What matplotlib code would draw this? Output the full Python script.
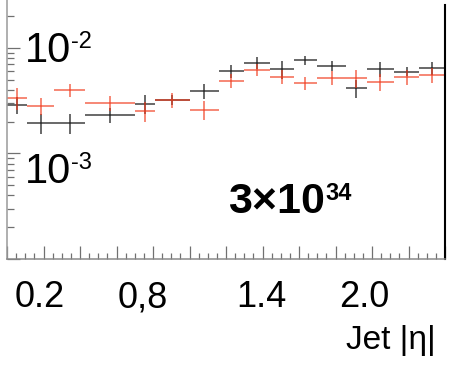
import matplotlib
matplotlib.use("Agg")
import matplotlib.pyplot as plt
import matplotlib.transforms as mtransforms
from matplotlib.ticker import MultipleLocator, LogLocator, NullFormatter
import numpy as np

plt.rcParams['font.family'] = ['Liberation Sans', 'DejaVu Sans']

# variable-width |eta| bins
bin_edges = [0.0, 0.11, 0.26, 0.43, 0.70, 0.81, 1.0, 1.16, 1.30, 1.44,
             1.57, 1.70, 1.86, 1.97, 2.12, 2.26, 2.4]

# black series: value and error per bin
black_vals = [2.90e-3, 1.96e-3, 1.96e-3, 2.33e-3, 2.96e-3, 3.23e-3, 3.93e-3, 6.07e-3,
              7.22e-3, 6.34e-3, 7.70e-3, 6.76e-3, 4.19e-3, 6.34e-3, 5.94e-3, 6.48e-3]
black_errs = [5.35e-4, 4.26e-4, 4.26e-4, 3.80e-4, 5.79e-4, 3.51e-4, 6.40e-4, 8.57e-4,
              9.41e-4, 1.24e-3, 7.53e-4, 7.34e-4, 8.19e-4, 1.03e-3, 5.80e-4, 9.15e-4]

# red series: value and error per bin
red_vals = [3.38e-3, 2.84e-3, 4.02e-3, 3.03e-3, 2.54e-3, 3.23e-3, 2.60e-3, 4.88e-3,
            6.20e-3, 5.33e-3, 4.67e-3, 5.21e-3, 5.21e-3, 4.78e-3, 5.33e-3, 5.56e-3]
red_errs = [8.08e-4, 5.24e-4, 5.68e-4, 4.94e-4, 5.52e-4, 5.26e-4, 5.08e-4, 7.42e-4,
            8.08e-4, 8.11e-4, 6.59e-4, 7.92e-4, 1.02e-3, 8.82e-4, 8.68e-4, 9.06e-4]

tick_vals = [0.2, 0.8, 1.4, 2.0]
tick_labels = ["0.2", "0,8", "1.4", "2.0"]
x_title = "Jet |\u03b7|"
lumi_main = "3\u00d710"
lumi_exp = "34"

W, H = 450, 366
fig = plt.figure(figsize=(W / 100, H / 100), dpi=100)
ax = fig.add_axes([7 / W, (H - 259) / H, 438 / W, 259 / H])

edges = np.array(bin_edges)
centers = 0.5 * (edges[:-1] + edges[1:])
halfw = 0.5 * (edges[1:] - edges[:-1])

ax.errorbar(centers, black_vals, xerr=halfw, yerr=black_errs, fmt='none',
            ecolor='#1a1a1a', elinewidth=1.15, capsize=0, alpha=0.8)
ax.errorbar(centers, red_vals, xerr=halfw, yerr=red_errs, fmt='none',
            ecolor='#f03c1e', elinewidth=1.15, capsize=0, alpha=0.75)

ax.set_yscale('log')
ax.set_xlim(0, 2.4)
ax.set_ylim(1e-4, 2.84e-2)

# ticks drawn inward, no numeric labels
ax.xaxis.set_major_locator(MultipleLocator(0.2))
ax.xaxis.set_minor_locator(MultipleLocator(0.05))
ax.yaxis.set_major_locator(LogLocator(base=10))
ax.yaxis.set_minor_locator(LogLocator(base=10, subs=np.arange(2, 10)))
ax.xaxis.set_major_formatter(NullFormatter())
ax.yaxis.set_major_formatter(NullFormatter())
ax.yaxis.set_minor_formatter(NullFormatter())
ax.tick_params(axis='both', which='major', direction='in', length=9.4, width=0.9,
               color='#707070', top=False, right=False)
ax.tick_params(axis='both', which='minor', direction='in', length=4.6, width=0.9,
               color='#707070', top=False, right=False)
ax.tick_params(axis='y', which='minor', length=5.0)

ax.spines['top'].set_visible(False)
ax.spines['left'].set_color('#9a9a9a')
ax.spines['left'].set_linewidth(1.1)
ax.spines['bottom'].set_color('#8a8a8a')
ax.spines['bottom'].set_linewidth(1.1)
ax.spines['right'].set_color('black')
ax.spines['right'].set_linewidth(1.5)
ax.spines['right'].set_bounds(1e-4, 2.55e-2)

# x tick labels, nudged left as typeset
label_nudge_px = [-4, -10, -1, -8]
for xv, txt, dx in zip(tick_vals, tick_labels, label_nudge_px):
    tr = ax.get_xaxis_transform() + mtransforms.ScaledTranslation(dx / 100, 0, fig.dpi_scale_trans)
    ax.text(xv, -48 / 259, txt, transform=tr, ha='center', va='baseline',
            fontsize=26, color='black')

# axis title
fig.text(436 / W, 1 - 349 / H, x_title, ha='right', va='baseline', fontsize=24)

# decade labels inside the frame
def decade(x_px, base_px, exp):
    fig.text(x_px / W, 1 - base_px / H, "10", ha='left', va='baseline', fontsize=30)
    fig.text((x_px + 46) / W, 1 - (base_px - 14) / H, exp, ha='left', va='baseline',
             fontsize=17)

decade(25, 62, "-2")
decade(25, 183, "-3")

# luminosity label
fig.text(228 / W, 1 - 213 / H, lumi_main, ha='left', va='baseline', fontsize=31,
         fontweight='bold')
fig.text(325 / W, 1 - 200 / H, lumi_exp, ha='left', va='baseline', fontsize=17,
         fontweight='bold')

fig.savefig("out.png", dpi=100)
